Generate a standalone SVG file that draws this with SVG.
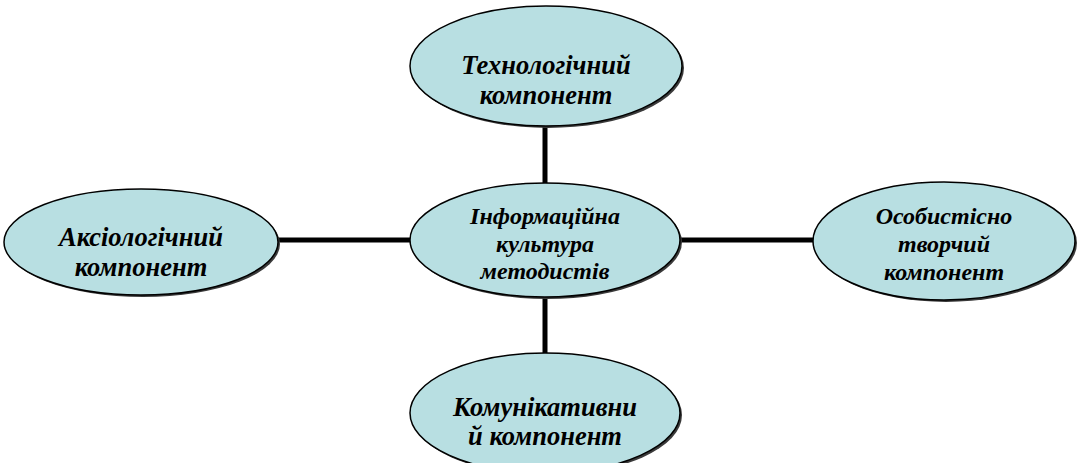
<svg xmlns="http://www.w3.org/2000/svg" width="1078" height="463" viewBox="0 0 1078 463">
<style>
.sh{fill:#3a3a3a;stroke:none}
.el{fill:#b8dfe2;stroke:#000;stroke-width:1.5}
.t{font-family:"Liberation Serif","Times New Roman",serif;font-weight:bold;font-style:italic;font-size:26.5px;fill:#000;text-anchor:middle}
.s{font-size:24px}
.c{stroke:#000;stroke-width:5;fill:none}
</style>
<rect width="1078" height="463" fill="#fff"/>
<g id="connectors">
<line class="c" x1="545" y1="124" x2="545" y2="185"/>
<line class="c" x1="545" y1="295" x2="545" y2="355"/>
<line class="c" x1="277" y1="240" x2="412" y2="240"/>
<line class="c" x1="678" y1="240" x2="815" y2="240"/>
</g>
<g id="n-top">
<ellipse class="sh" cx="548" cy="68" rx="136" ry="60"/>
<ellipse class="el" cx="546" cy="66" rx="136" ry="60"/>
<text class="t" x="546" y="74">Технологічний</text>
<text class="t" x="546" y="104">компонент</text>
</g>
<g id="n-center">
<ellipse class="sh" cx="547" cy="242" rx="135" ry="57"/>
<ellipse class="el" cx="545" cy="240" rx="135" ry="57"/>
<text class="t s" x="545" y="224">Інформаційна</text>
<text class="t s" x="545" y="252">культура</text>
<text class="t s" x="545" y="279">методистів</text>
</g>
<g id="n-left">
<ellipse class="sh" cx="143" cy="244" rx="137" ry="53"/>
<ellipse class="el" cx="141" cy="242" rx="137" ry="53"/>
<text class="t" x="141" y="246">Аксіологічний</text>
<text class="t" x="141" y="276">компонент</text>
</g>
<g id="n-right">
<ellipse class="sh" cx="946" cy="243" rx="131" ry="59"/>
<ellipse class="el" cx="944" cy="241" rx="131" ry="59"/>
<text class="t s" x="944" y="224">Особистісно</text>
<text class="t s" x="944" y="252">творчий</text>
<text class="t s" x="944" y="280">компонент</text>
</g>
<g id="n-bottom">
<ellipse class="sh" cx="547" cy="415" rx="135" ry="60"/>
<ellipse class="el" cx="545" cy="413" rx="135" ry="60"/>
<text class="t" x="545" y="416">Комунікативни</text>
<text class="t" x="545" y="445">й компонент</text>
</g>
</svg>
